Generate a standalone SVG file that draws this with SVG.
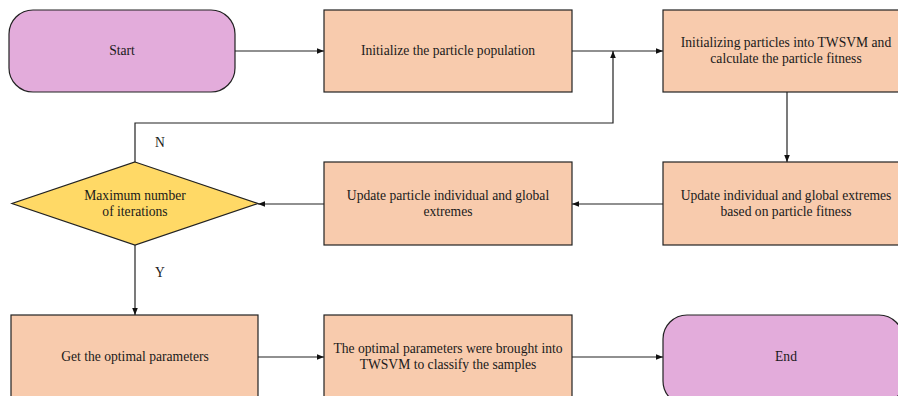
<svg xmlns="http://www.w3.org/2000/svg" width="898" height="396" viewBox="0 0 898 396">
  <style>
    .term { fill: #e3acdb; stroke: #222; stroke-width: 1.2; }
    .proc { fill: #f8cbad; stroke: #222; stroke-width: 1.2; }
    .dec { fill: #ffd966; stroke: #222; stroke-width: 1.2; }
    .lbl { font-family: "Liberation Serif", "Times New Roman", serif; font-size: 13.6px; fill: #1a1a1a; text-anchor: middle; dominant-baseline: middle; }
    .edge { fill: none; stroke: #222; stroke-width: 1.2; }
  </style>
  <defs>
    <marker id="arrow" viewBox="0 0 10 10" refX="10" refY="5" markerWidth="7" markerHeight="7" orient="auto" markerUnits="userSpaceOnUse">
      <path d="M0,1 L10,5 L0,9 Z" fill="#111"/>
    </marker>
  </defs>

  <rect width="898" height="396" fill="#ffffff"/>

  <g id="edges">
    <path class="edge" d="M235,51 L324,51" marker-end="url(#arrow)"/>
    <path class="edge" d="M572,51 L663,51" marker-end="url(#arrow)"/>
    <path class="edge" d="M787,92 L787,162" marker-end="url(#arrow)"/>
    <path class="edge" d="M663,204 L572,204" marker-end="url(#arrow)"/>
    <path class="edge" d="M324,204 L258,204" marker-end="url(#arrow)"/>
    <path class="edge" d="M135,162 L135,123 L613,123 L613,51" marker-end="url(#arrow)"/>
    <path class="edge" d="M135,245 L135,315" marker-end="url(#arrow)"/>
    <path class="edge" d="M258,357 L324,357" marker-end="url(#arrow)"/>
    <path class="edge" d="M572,357 L663,357" marker-end="url(#arrow)"/>
    <text class="lbl" x="160" y="144">N</text>
    <text class="lbl" x="160" y="274">Y</text>
  </g>

  <g id="start">
    <rect class="term" x="9" y="10" width="226" height="82" rx="24" ry="24"/>
    <text class="lbl" x="122" y="52">Start</text>
  </g>

  <g id="init-population">
    <rect class="proc" x="324" y="10" width="248" height="82"/>
    <text class="lbl" x="448" y="52">Initialize the particle population</text>
  </g>

  <g id="init-twsvm">
    <rect class="proc" x="663" y="10" width="240" height="82"/>
    <text class="lbl" x="786" y="44">Initializing particles into TWSVM and</text>
    <text class="lbl" x="786" y="60">calculate the particle fitness</text>
  </g>

  <g id="update-fitness">
    <rect class="proc" x="663" y="162" width="240" height="83"/>
    <text class="lbl" x="786" y="197">Update individual and global extremes</text>
    <text class="lbl" x="786" y="213">based on particle fitness</text>
  </g>

  <g id="update-particle">
    <rect class="proc" x="324" y="162" width="248" height="83"/>
    <text class="lbl" x="448" y="197">Update particle individual and global</text>
    <text class="lbl" x="448" y="213">extremes</text>
  </g>

  <g id="max-iter">
    <polygon class="dec" points="135,162 258,203.5 135,245 12,203.5"/>
    <text class="lbl" x="135" y="197">Maximum number</text>
    <text class="lbl" x="135" y="213">of iterations</text>
  </g>

  <g id="optimal">
    <rect class="proc" x="11" y="315" width="247" height="90"/>
    <text class="lbl" x="135" y="358">Get the optimal parameters</text>
  </g>

  <g id="classify">
    <rect class="proc" x="324" y="315" width="248" height="90"/>
    <text class="lbl" x="448" y="350">The optimal parameters were brought into</text>
    <text class="lbl" x="448" y="366">TWSVM to classify the samples</text>
  </g>

  <g id="end">
    <rect class="term" x="663" y="315" width="240" height="90" rx="24" ry="24"/>
    <text class="lbl" x="786" y="358">End</text>
  </g>
</svg>
